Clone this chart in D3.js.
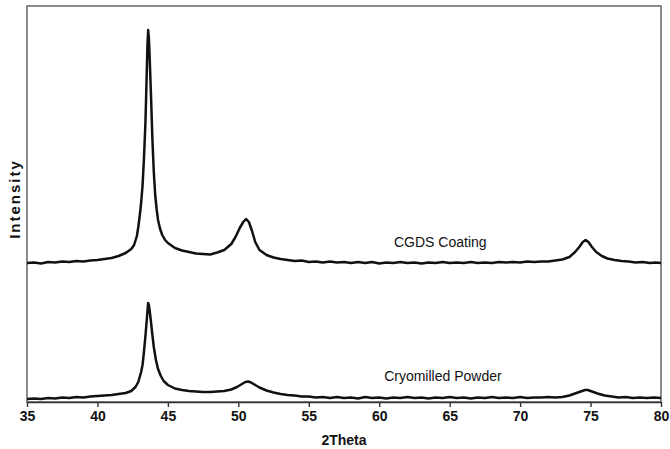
<!DOCTYPE html>
<html>
<head>
<meta charset="utf-8">
<script src="https://cdn.jsdelivr.net/npm/d3@7"></script>
<style>
  body { margin: 0; background: #fff; }
  svg text { font-family: "Liberation Sans", Arial, sans-serif; }
</style>
</head>
<body>
<div id="graph"></div>
<script>
// 2Theta positions and intensities (arbitrary units)
let coatingTheta = [35, 35.5, 36, 36.5, 37, 37.5, 38, 38.5, 39, 39.5, 40, 40.5, 41, 41.5, 42, 42.4, 42.6, 42.8, 42.9,
  43.0, 43.1, 43.2, 43.3, 43.4, 43.45, 43.5, 43.55, 43.6, 43.65, 43.7, 43.8, 43.9, 44.0, 44.1, 44.2, 44.3, 44.45, 44.6, 44.8,
  45.0, 45.5, 46.0, 46.5, 47.0, 47.5, 48.0, 48.5, 49.0, 49.5, 49.8, 50.1, 50.35, 50.55, 50.75, 50.95, 51.2, 51.5,
  52.0, 52.5, 53, 53.5, 54, 54.5, 55, 55.5, 56, 56.5, 57, 57.5, 58, 58.5, 59, 59.5, 60, 60.5, 61, 61.5, 62, 62.5,
  63, 63.5, 64, 64.5, 65, 65.5, 66, 66.5, 67, 67.5, 68, 68.5, 69, 69.5, 70, 70.5, 71, 71.5, 72, 72.5, 73, 73.5,
  73.9, 74.2, 74.45, 74.65, 74.85, 75.1, 75.4, 75.8, 76.2, 76.7, 77.2, 77.7, 78.2, 78.7, 79.2, 79.6, 80];
let coatingCounts = [139, 139.5, 138.5, 140, 139.5, 140.5, 140, 141, 140.5, 141.5, 142, 143, 144, 146, 149, 153, 157, 166, 175,
  186, 199, 216, 243, 277, 302, 330, 357, 372, 364, 347, 307, 263, 230, 207, 193, 182, 173, 167, 162,
  159, 154, 151.5, 150, 148.5, 148, 147.5, 149.5, 152, 158, 165, 174, 180, 183, 180, 172, 160, 152,
  147, 144.5, 143, 142, 141, 141.5, 140, 140.5, 139.5, 140.5, 139.5, 140, 139, 140, 139, 140, 138.5, 139.5, 139, 140, 139, 139.5,
  138.5, 139.5, 139, 140, 139, 139.5, 139, 140, 139, 139.5, 139, 140, 139.5, 140, 139.5, 140.5, 140, 140.5, 140.5, 141.5, 142.5, 145,
  150, 155, 160, 162, 160, 155, 150, 146, 143.5, 142, 141, 140.5, 139.5, 140, 139, 139.5, 139];

let powderTheta = [35, 35.5, 36, 36.5, 37, 37.5, 38, 38.5, 39, 39.5, 40, 40.5, 41, 41.5, 42, 42.4, 42.7, 42.9,
  43.1, 43.2, 43.3, 43.4, 43.5, 43.55, 43.6, 43.65, 43.7, 43.8, 43.9, 44.0, 44.15, 44.3, 44.5, 44.7,
  45.0, 45.5, 46, 46.5, 47, 47.5, 48, 48.5, 49, 49.5, 49.9, 50.2, 50.5, 50.7, 50.9, 51.2, 51.5,
  52, 52.5, 53, 53.5, 54, 54.5, 55, 55.5, 56, 56.5, 57, 57.5, 58, 58.5, 59, 59.5, 60, 60.5, 61, 61.5, 62, 62.5,
  63, 63.5, 64, 64.5, 65, 65.5, 66, 66.5, 67, 67.5, 68, 68.5, 69, 69.5, 70, 70.5, 71, 71.5, 72, 72.5, 73, 73.5,
  73.9, 74.3, 74.6, 74.8, 75.1, 75.5, 76, 76.5, 77, 77.5, 78, 78.5, 79, 79.5, 80];
let powderCounts = [3, 3.5, 3, 4, 3.5, 4.5, 4, 5, 4.5, 5.5, 6, 6.5, 7, 8, 9, 11, 15, 20,
  30, 37, 50, 65, 82, 91, 99, 97, 92, 80, 67, 55, 42, 33, 26, 21,
  17, 13.5, 12, 11, 10.5, 10, 10, 10.5, 11, 12.5, 15, 17.5, 20, 20.5, 19.5, 17, 14.5,
  11.5, 9.5, 8, 7, 6.5, 5.5, 5.5, 4.5, 5, 4, 5, 4, 4.5, 3.5, 5, 4, 4.5, 3.5, 4.5, 4, 5, 4,
  4.5, 3.5, 4.5, 4, 5, 4, 4.5, 3.5, 4.5, 4, 5, 4, 4.5, 4, 5, 4, 4.5, 4.5, 5, 4.5, 5, 6.5,
  8.5, 10.5, 12, 12, 10.5, 8.5, 6.5, 5.5, 4.5, 5, 4, 4.5, 4, 4.5, 4];

let xTicks = [35, 40, 45, 50, 55, 60, 65, 70, 75, 80];
let seriesLabels = ["CGDS Coating", "Cryomilled Powder"];

function drawChart() {
  let margin = { top: 6, right: 9, bottom: 47, left: 27 },
    width = 670 - margin.left - margin.right,
    height = 449 - margin.top - margin.bottom;

  let svg = d3
    .select("#graph")
    .append("svg")
    .attr("width", 670)
    .attr("height", 449)
    .append("g")
    .attr("transform", "translate(" + margin.left + "," + margin.top + ")");

  let x = d3.scaleLinear().domain([35, 80]).range([0, width]);
  let y = d3.scaleLinear().domain([0, 396]).range([height, 0]);

  // frame round the plot
  svg
    .append("rect")
    .attr("width", width)
    .attr("height", height)
    .attr("fill", "none")
    .attr("stroke", "#6e6e6e")
    .attr("stroke-width", 1.6);

  // x axis with ticks below
  let xAxis = svg
    .append("g")
    .attr("transform", "translate(0," + height + ")")
    .call(d3.axisBottom(x).tickValues(xTicks).tickSize(5).tickSizeOuter(0).tickPadding(4));
  xAxis.select(".domain").attr("stroke", "#333").attr("stroke-width", 1.6);
  xAxis.selectAll(".tick line").attr("stroke", "#333").attr("stroke-width", 1.4);
  xAxis
    .selectAll("text")
    .style("font-size", "14px")
    .style("font-weight", "bold")
    .attr("fill", "#111");

  // the two patterns
  let line = d3
    .line()
    .x((d) => x(d[0]))
    .y((d) => y(d[1]));

  let coating = coatingTheta.map((t, i) => [t, coatingCounts[i]]);
  let powder = powderTheta.map((t, i) => [t, powderCounts[i]]);

  [coating, powder].forEach((pts) => {
    svg
      .append("path")
      .datum(pts)
      .attr("d", line)
      .attr("fill", "none")
      .attr("stroke", "#111")
      .attr("stroke-width", 2.5)
      .attr("stroke-linejoin", "round");
  });

  // series labels
  svg
    .append("text")
    .attr("x", x(61.05))
    .attr("y", y(155))
    .style("font-size", "14px")
    .attr("fill", "#111")
    .text(seriesLabels[0]);
  svg
    .append("text")
    .attr("x", x(60.35))
    .attr("y", y(21))
    .style("font-size", "14px")
    .attr("fill", "#111")
    .text(seriesLabels[1]);

  // axis titles
  svg
    .append("text")
    .attr("x", width / 2)
    .attr("y", height + 43)
    .attr("text-anchor", "middle")
    .style("font-size", "14px")
    .style("font-weight", "bold")
    .attr("fill", "#111")
    .text("2Theta");
  svg
    .append("text")
    .attr("transform", "translate(-7," + (199 - margin.top) + ") rotate(-90)")
    .attr("text-anchor", "middle")
    .style("font-size", "15px")
    .style("font-weight", "bold")
    .style("letter-spacing", "2px")
    .attr("fill", "#111")
    .text("Intensity");
}

drawChart();
</script>
</body>
</html>
